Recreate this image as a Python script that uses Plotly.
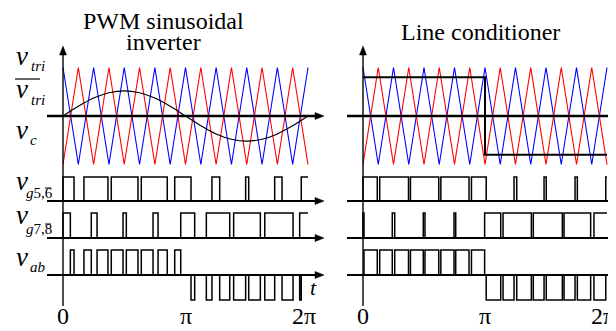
import plotly.graph_objects as go

W, H = 616, 331

# carrier vertices, t in units of pi
carrier_t = [0, 0.125, 0.25, 0.375, 0.5, 0.625, 0.75, 0.875, 1.0,
             1.125, 1.25, 1.375, 1.5, 1.625, 1.75, 1.875, 2.0]
tri_blue = [1, -1, 1, -1, 1, -1, 1, -1, 1, -1, 1, -1, 1, -1, 1, -1, 1]
tri_red = [-1, 1, -1, 1, -1, 1, -1, 1, -1, 1, -1, 1, -1, 1, -1, 1, -1]

# control signals
sine_vc = [0, 0.2, 0.37, 0.48, 0.52, 0.48, 0.37, 0.2, 0,
           -0.2, -0.37, -0.48, -0.52, -0.48, -0.37, -0.2, 0]
square_t = [0, 1, 1, 2]
square_vc = [0.8, 0.8, -0.8, -0.8]

# gate "on" intervals (t/pi) - PWM sinusoidal inverter
pwm_g56 = [(0, 0.09), (0.171, 0.367), (0.394, 0.612), (0.639, 0.851), (0.912, 1.045),
           (1.216, 1.279), (1.491, 1.516), (1.728, 1.788), (1.945, 2.0)]
pwm_g78 = [(0, 0.06), (0.231, 0.278), (0.49, 0.517), (0.735, 0.776), (0.961, 1.075),
           (1.17, 1.361), (1.393, 1.611), (1.647, 1.878), (1.932, 2.0)]
pwm_vab_pos = [(0.06, 0.09), (0.171, 0.231), (0.278, 0.367), (0.394, 0.49),
               (0.517, 0.612), (0.639, 0.735), (0.776, 0.851), (0.912, 0.961)]
pwm_vab_neg = [(1.045, 1.075), (1.17, 1.216), (1.279, 1.361), (1.393, 1.491),
               (1.516, 1.611), (1.647, 1.728), (1.788, 1.878), (1.932, 1.945)]

# line conditioner
lc_g56 = [(0, 0.117), (0.137, 0.373), (0.389, 0.621), (0.638, 0.869), (0.889, 1.01),
          (1.238, 1.26), (1.484, 1.502), (1.738, 1.757), (1.99, 2.0)]
lc_g78 = [(0, 0.008), (0.24, 0.26), (0.494, 0.508), (0.746, 0.76), (0.997, 1.129),
          (1.148, 1.38), (1.396, 1.634), (1.648, 1.866), (1.893, 2.0)]
lc_vab_pos = [(0.008, 0.117), (0.137, 0.24), (0.26, 0.373), (0.389, 0.494),
              (0.508, 0.621), (0.638, 0.746), (0.76, 0.869), (0.889, 0.997)]
lc_vab_neg = [(1.01, 1.129), (1.148, 1.238), (1.26, 1.38), (1.396, 1.484),
              (1.502, 1.634), (1.648, 1.738), (1.757, 1.866), (1.893, 1.99)]

tick_vals = [0, 1, 2]
tick_text = ["0", "π", "2π"]

# row baselines / amplitudes in pixels
CARRIER = (108, 48.5)
G56 = (193, 24)
G78 = (230, 25)
VAB = (267, 25)

SERIF = "Times New Roman, Liberation Serif, serif"


def to_px(vals, row):
    base, amp = row
    return [base - amp * v for v in vals]


def steps(pos, neg=()):
    ivs = [(a, b, 1) for a, b in pos] + [(a, b, -1) for a, b in neg]
    ivs.sort()
    xs, ys = [0], [0]
    for a, b, lvl in ivs:
        xs += [a, a, b, b]
        ys += [0, lvl, lvl, 0]
    if ivs and ivs[-1][1] >= 2:
        xs, ys = xs[:-1], ys[:-1]
    else:
        xs.append(2)
        ys.append(0)
    return xs, ys


fig = go.Figure()


def line(x, y, xa, color="black", width=1.5, shape="linear"):
    fig.add_trace(go.Scatter(x=x, y=y, xaxis=xa, mode="lines",
                             line=dict(color=color, width=width, shape=shape),
                             hoverinfo="skip", showlegend=False))


for xa in ["x", "x2"]:
    line(carrier_t, to_px(tri_blue, CARRIER), xa, "#0000ff", 1.1)
    line(carrier_t, to_px(tri_red, CARRIER), xa, "#ff0000", 1.1)

line(carrier_t, to_px(sine_vc, CARRIER), "x", "black", 1.2, "spline")
line(square_t, to_px(square_vc, CARRIER), "x2", "black", 2)

for xa, g56, g78, vp, vn in [("x", pwm_g56, pwm_g78, pwm_vab_pos, pwm_vab_neg),
                             ("x2", lc_g56, lc_g78, lc_vab_pos, lc_vab_neg)]:
    sx, sy = steps(g56)
    line(sx, to_px(sy, G56), xa)
    sx, sy = steps(g78)
    line(sx, to_px(sy, G78), xa)
    sx, sy = steps(vp, vn)
    line(sx, to_px(sy, VAB), xa)


def px(x):
    return x / W


def py(y):
    return 1 - y / H


shapes = []


def seg(x0, y0, x1, y1, width):
    shapes.append(dict(type="line", xref="paper", yref="paper",
                       x0=px(x0), y0=py(y0), x1=px(x1), y1=py(y1),
                       line=dict(color="black", width=width), layer="above"))


def head(pts):
    d = "M " + " L ".join(f"{px(a):.5f},{py(b):.5f}" for a, b in pts) + " Z"
    shapes.append(dict(type="path", xref="paper", yref="paper", path=d,
                       fillcolor="black", line=dict(color="black", width=0.5),
                       layer="above"))


# axes with arrowheads
for x0, x1, yax in [(39, 316, 55), (339, 615, 355)]:
    seg(yax, 298, yax, 44, 1.4)
    head([(yax, 38), (yax - 3.5, 47), (yax + 3.5, 47)])
    for yy, w in [(CARRIER[0], 2.6), (G56[0], 1.8), (G78[0], 1.8), (VAB[0], 1.8)]:
        seg(x0, yy, x1 - 6, yy, w)
        head([(x1, yy), (x1 - 9, yy - 3.5), (x1 - 9, yy + 3.5)])

# fraction bar and overbars on the label side
seg(7, 71, 32, 71, 1.2)
seg(37, 180, 43, 180, 1)
seg(37, 216, 43, 216, 1)

ann = []


def text(x, y, s, size, italic=False, xanchor="center"):
    if italic:
        s = "<i>" + s + "</i>"
    ann.append(dict(x=px(x), y=py(y), xref="paper", yref="paper", text=s,
                    showarrow=False, xanchor=xanchor, yanchor="middle",
                    font=dict(family=SERIF, size=size, color="black")))


# titles
text(155, 13, "PWM sinusoidal", 24)
text(155, 34, "inverter", 24)
text(472, 24, "Line conditioner", 24)

# row labels
text(14, 48, "v", 27, True)
text(21, 58, "tri", 15, True, "left")
text(14, 81, "v", 27, True)
text(21, 92, "tri", 15, True, "left")
text(14, 122, "v", 27, True)
text(20, 132, "c", 15, True, "left")
text(14, 173, "v", 27, True)
text(16, 185, "<i>g</i>5,6", 15, False, "left")
text(14, 207, "v", 27, True)
text(16, 221, "<i>g</i>7,8", 15, False, "left")
text(14, 249, "v", 27, True)
text(20, 259, "ab", 15, True, "left")
text(305, 279, "t", 22, True)
text(606, 281, "t", 20, True)

# tick labels along t
for xa in ["x", "x2"]:
    for v, s in zip(tick_vals, tick_text):
        ann.append(dict(x=v, y=py(308), xref=xa, yref="paper", text=s,
                        showarrow=False, xanchor="center", yanchor="middle",
                        xshift=-4 if s == "2π" else 0,
                        font=dict(family=SERIF, size=24, color="black")))

fig.update_layout(
    width=W, height=H, margin=dict(l=0, r=0, t=0, b=0),
    paper_bgcolor="white", plot_bgcolor="white",
    annotations=ann,
    shapes=shapes,
    xaxis=dict(range=[-55 / 122.5, 561 / 122.5], domain=[0, 1], visible=False),
    xaxis2=dict(range=[-355 / 122, 261 / 122], domain=[0, 1], overlaying="x",
                visible=False),
    yaxis=dict(range=[H, 0], domain=[0, 1], visible=False),
)

fig.write_html("out.html")
